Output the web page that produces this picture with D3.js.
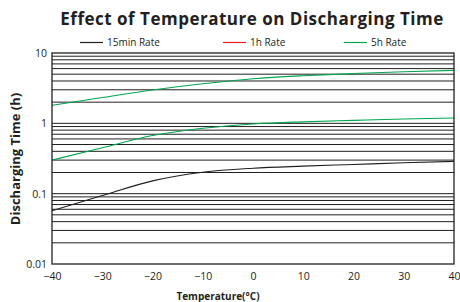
<!DOCTYPE html>
<html>
<head>
<meta charset="utf-8">
<script src="https://cdn.jsdelivr.net/npm/d3@7"></script>
<style>
  body { margin: 0; background: #fff; }
  text { font-family: "Open Sans", sans-serif; fill: #231f20; }
</style>
</head>
<body>
<div data-output></div>
<script>
// temperatures (°C)
const temps = [-40, -30, -20, -10, 0, 10, 20, 30, 40];

// discharging time (h)
const rate15min = [0.057, 0.094, 0.152, 0.202, 0.23, 0.246, 0.26, 0.275, 0.288];
const rate1h = [0.30, 0.45, 0.67, 0.85, 0.98, 1.05, 1.10, 1.15, 1.19];
const rate5h = [1.80, 2.33, 2.98, 3.65, 4.30, 4.75, 5.10, 5.40, 5.67];

const seriesNames = ['15min Rate', '1h Rate', '5h Rate'];
const legendColors = ['#231f20', '#ed1c24', '#00a651'];
// in the picture the 1h curve is drawn green
const lineColors = ['#231f20', '#00a651', '#00a651'];

const xTicks = [-40, -30, -20, -10, 0, 10, 20, 30, 40];
const yTicks = [0.01, 0.1, 1, 10];

const SIZE = { WIDTH: 460, HEIGHT: 302 };
const margin = { top: 53, right: 6, bottom: 38, left: 52 };
const width = SIZE.WIDTH - margin.left - margin.right;
const height = SIZE.HEIGHT - margin.top - margin.bottom;

const x = d3.scaleLinear().domain([-40, 40]).range([0, width]);
const y = d3.scaleLog().domain([0.01, 10]).range([height, 0]);

const root = d3.select('[data-output]').append('svg')
  .attr('width', SIZE.WIDTH)
  .attr('height', SIZE.HEIGHT);

// title
root.append('text')
  .attr('x', 252)
  .attr('y', 25)
  .attr('text-anchor', 'middle')
  .style('font-size', '17px')
  .style('font-weight', 'bold')
  .style('letter-spacing', '0.5px')
  .text('Effect of Temperature on Discharging Time');

// legend
const legendX = [80, 223, 344];
seriesNames.forEach((name, i) => {
  const g = root.append('g').attr('transform', `translate(${legendX[i]}, 42.5)`);
  g.append('line')
    .attr('x1', 0).attr('x2', 23)
    .attr('stroke', legendColors[i])
    .attr('stroke-width', 1.2);
  g.append('text')
    .attr('x', 27)
    .attr('y', 3.5)
    .style('font-size', '10px')
    .text(name);
});

const svg = root.append('g')
  .attr('transform', `translate(${margin.left}, ${margin.top})`);

// log grid lines (1..9 in every decade)
const grid = [];
[0.01, 0.1, 1].forEach(d => {
  for (let k = 1; k <= 9; k++) grid.push(+(k * d).toPrecision(3));
});
svg.append('g')
  .selectAll('line')
  .data(grid.filter(v => v > 0.01))
  .join('line')
  .attr('x1', 0)
  .attr('x2', width)
  .attr('y1', d => y(d))
  .attr('y2', d => y(d))
  .attr('stroke', '#231f20')
  .attr('stroke-width', 1);

// curves
const data = [rate15min, rate1h, rate5h];
const valueLine = d3.line()
  .x((d, i) => x(temps[i]))
  .y(d => y(d))
  .curve(d3.curveMonotoneX);

data.forEach((s, i) => {
  svg.append('path')
    .datum(s)
    .attr('fill', 'none')
    .attr('stroke', lineColors[i])
    .attr('stroke-width', 1.1)
    .attr('d', valueLine);
});

// frame
svg.append('rect')
  .attr('width', width)
  .attr('height', height)
  .attr('fill', 'none')
  .attr('stroke', '#231f20')
  .attr('stroke-width', 1.3);

// axes (labels only)
const xAxis = svg.append('g')
  .attr('transform', `translate(0, ${height})`)
  .call(d3.axisBottom(x).tickValues(xTicks).tickSize(0).tickPadding(9).tickFormat(d3.format('d')));
xAxis.select('.domain').remove();
xAxis.selectAll('text')
  .style('font-size', '10.5px')
  .style('font-family', '"Open Sans", sans-serif')
  .attr('fill', '#231f20');

const yAxis = svg.append('g')
  .call(d3.axisLeft(y).tickValues(yTicks).tickSize(0).tickPadding(5).tickFormat(d => String(d)));
yAxis.select('.domain').remove();
yAxis.selectAll('text')
  .style('font-size', '10.5px')
  .style('font-family', '"Open Sans", sans-serif')
  .attr('fill', '#231f20');

// axis titles
root.append('text')
  .attr('x', 218)
  .attr('y', 299.5)
  .attr('text-anchor', 'middle')
  .style('font-size', '10px')
  .style('font-weight', 'bold')
  .text('Temperature(°C)');

root.append('text')
  .attr('transform', 'translate(20, 159) rotate(-90)')
  .attr('text-anchor', 'middle')
  .style('font-size', '13px')
  .style('font-weight', 'bold')
  .text('Discharging Time (h)');
</script>
</body>
</html>
